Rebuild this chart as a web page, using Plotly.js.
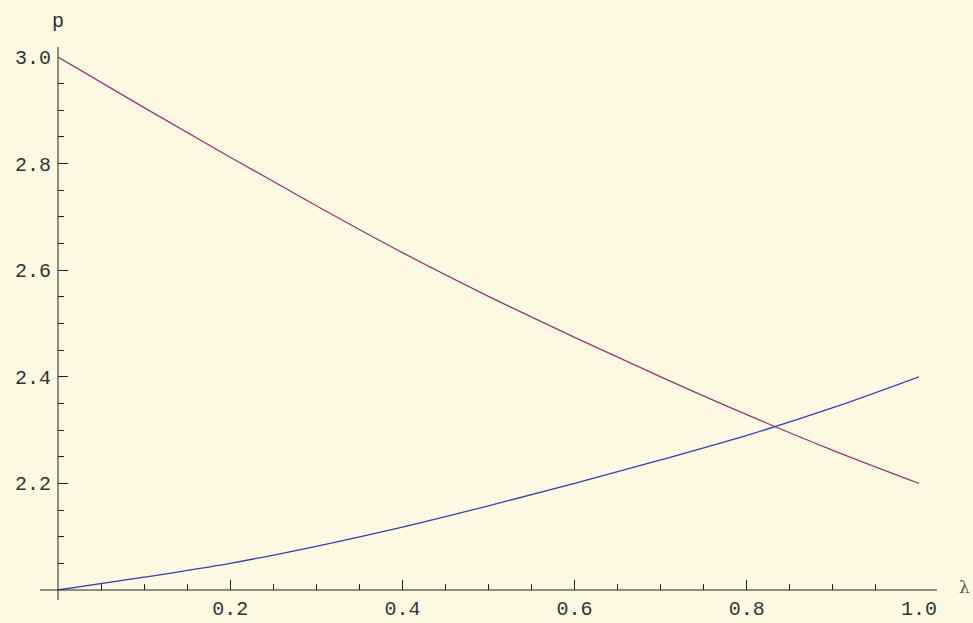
<!DOCTYPE html>
<html>
<head>
<meta charset="utf-8">
<script src="https://cdn.plot.ly/plotly-3.0.1.min.js"></script>
<style>html,body{margin:0;padding:0;background:#FFF9E3;}</style>
</head>
<body>
<div id="chart" style="width:973px;height:623px;"></div>
<script>
const lambda = [0, 0.1, 0.2, 0.3, 0.4, 0.5, 0.6, 0.7, 0.8, 0.9, 1.0];
const pRed  = [3.000, 2.905, 2.812, 2.721, 2.633, 2.551, 2.474, 2.400, 2.329, 2.262, 2.200];
const pBlue = [2.000, 2.024, 2.050, 2.082, 2.118, 2.158, 2.200, 2.244, 2.290, 2.342, 2.400];
const xTickVals = [0.2, 0.4, 0.6, 0.8, 1.0];
const xTickText = ["0.2", "0.4", "0.6", "0.8", "1.0"];
const xMinorVals = [0.05, 0.1, 0.15, 0.25, 0.3, 0.35, 0.45, 0.5, 0.55, 0.65, 0.7, 0.75, 0.85, 0.9, 0.95];
const yTickVals = [2.2, 2.4, 2.6, 2.8, 3.0];
const yTickText = ["2.2", "2.4", "2.6", "2.8", "3.0"];
const yMinorVals = [2.05, 2.1, 2.15, 2.25, 2.3, 2.35, 2.45, 2.5, 2.55, 2.65, 2.7, 2.75, 2.85, 2.9, 2.95];

const axisColor = '#222222';
const monoFont = {family: '"Courier New", "Liberation Mono", monospace', size: 20, color: '#333333'};

const traces = [
  {x: lambda, y: pRed, type: 'scatter', mode: 'lines', line: {color: '#943A6C', width: 1.3, shape: 'spline'}, hoverinfo: 'skip', cliponaxis: false},
  {x: lambda, y: pBlue, type: 'scatter', mode: 'lines', line: {color: '#3C3CA8', width: 1.3, shape: 'spline'}, hoverinfo: 'skip', cliponaxis: false}
];

const layout = {
  width: 973, height: 623,
  margin: {l: 58, r: 54, t: 57, b: 33},
  paper_bgcolor: '#FFF9E3', plot_bgcolor: '#FFF9E3',
  showlegend: false,
  xaxis: {
    range: [0, 1], showgrid: false, zeroline: false, showline: false,
    tickmode: 'array', tickvals: xTickVals, ticktext: xTickText,
    ticks: 'inside', ticklen: 10, tickwidth: 1, tickcolor: axisColor,
    tickfont: monoFont, ticklabelstandoff: 4,
    minor: {tickmode: 'array', tickvals: xMinorVals, ticks: 'inside', ticklen: 6, tickwidth: 1, tickcolor: axisColor, showgrid: false}
  },
  yaxis: {
    range: [2, 3], showgrid: false, zeroline: false, showline: false,
    tickmode: 'array', tickvals: yTickVals, ticktext: yTickText,
    ticks: 'inside', ticklen: 10, tickwidth: 1, tickcolor: axisColor,
    tickfont: monoFont, ticklabelstandoff: 6,
    minor: {tickmode: 'array', tickvals: yMinorVals, ticks: 'inside', ticklen: 6, tickwidth: 1, tickcolor: axisColor, showgrid: false}
  },
  shapes: [
    {type: 'line', xref: 'paper', yref: 'paper', x0: -0.0209, x1: 1.0209, y0: 0, y1: 0, line: {color: axisColor, width: 1}},
    {type: 'line', xref: 'paper', yref: 'paper', x0: 0, x1: 0, y0: -0.0188, y1: 1.0188, line: {color: axisColor, width: 1}}
  ],
  annotations: [
    {text: 'p', xref: 'paper', yref: 'paper', x: 0, y: 1.0188, xanchor: 'center', yanchor: 'bottom', yshift: 12, showarrow: false, font: monoFont},
    {text: 'λ', xref: 'paper', yref: 'paper', x: 1.0209, y: 0, xanchor: 'left', yanchor: 'middle', xshift: 20, yshift: 3, showarrow: false, font: {family: '"DejaVu Serif", "Liberation Serif", serif', size: 17, color: '#555555'}}
  ]
};

Plotly.newPlot('chart', traces, layout, {displayModeBar: false, staticPlot: true});
</script>
</body>
</html>
